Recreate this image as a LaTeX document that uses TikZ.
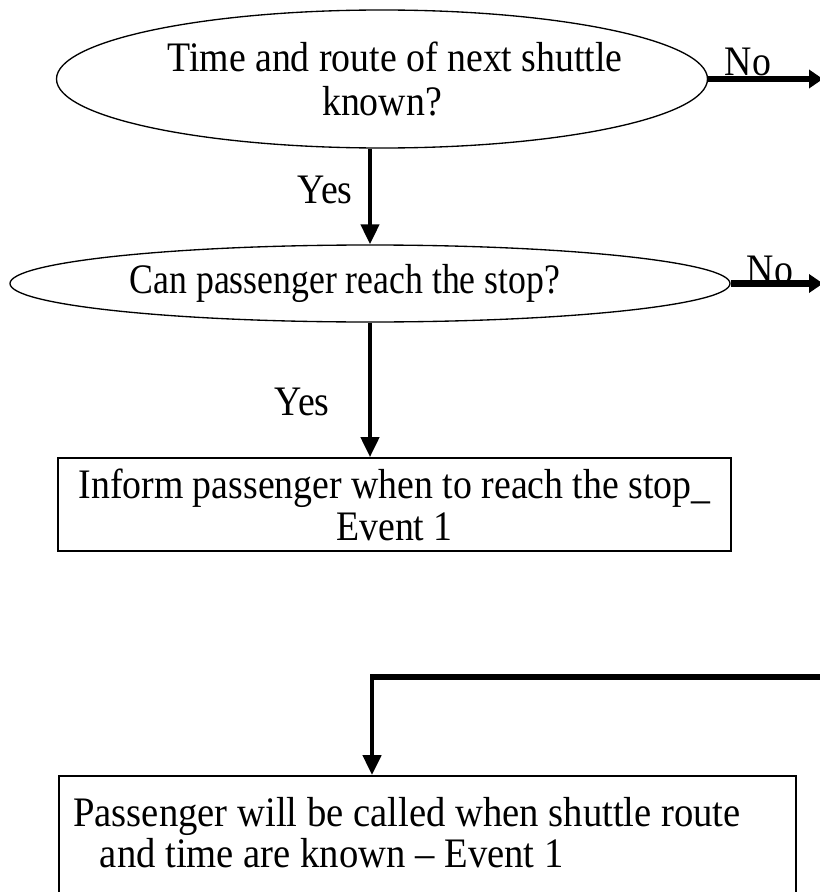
\documentclass[tikz,border=0pt]{standalone}
\usepackage{fontspec}
\setmainfont{Liberation Serif}[FakeStretch=0.9]
\newfontfamily\narrowfont{Liberation Serif}[FakeStretch=0.85,Ligatures=TeX]
\newfontfamily\widefont{Liberation Serif}[FakeStretch=0.92,Ligatures=TeX]
\usetikzlibrary{shapes.geometric,arrows.meta}
\newcommand\pxu{0.75pt}
\begin{document}
\begin{tikzpicture}[x=0.75pt,y=-0.75pt,
  every node/.style={font=\fontsize{31.5}{33.5}\selectfont},
  decision/.style={ellipse, draw, line width=1pt, inner sep=0pt, align=center},
  procbox/.style={rectangle, draw, line width=1.3pt, inner sep=0pt, align=center},
  flowarrow/.style={line width=3.2pt, -{Triangle[length=15pt,width=13.5pt]}},
  noarrow/.style={line width=5pt, -{Triangle[length=10.5pt,width=13.5pt]}},
  lbl/.style={inner sep=0pt}]
\useasboundingbox (0,0) rectangle (819,892);

% decisions
\node[decision, minimum width=651*\pxu, minimum height=138*\pxu] (d1) at (382,79)
  {\hspace*{9.75pt}Time and route of next shuttle\hspace*{-9.75pt}\\known?};
\node[decision, minimum width=720*\pxu, minimum height=77*\pxu,
  font=\narrowfont\fontsize{31.5}{33.5}\selectfont] (d2) at (370,283.5)
  {Can passenger reach the stop?\hspace*{37.5pt}};

% process boxes
\node[procbox, minimum width=673*\pxu, minimum height=93*\pxu,
  font=\fontsize{31.5}{31.5}\selectfont] (p1) at (394.5,504.5)
  {Inform passenger when to reach the stop\_\\Event 1};
\node[procbox, minimum width=737*\pxu, minimum height=122*\pxu, anchor=north west] (p2) at (58,775) {};
\node[anchor=north west, align=left, inner sep=0pt,
  font=\widefont\fontsize{31.5}{31}\selectfont] (t2) at (73,797)
  {Passenger will be called when shuttle route\\\hspace*{20pt}and time are known – Event 1};

% labels
\node[lbl] (no1) at (748,62) {No};
\node[lbl] (no2) at (770,270) {No};
\node[lbl] (yes1) at (325,190) {Yes};
\node[lbl] (yes2) at (302,402) {Yes};

% free ends at the right edge
\coordinate (e1) at (823,80);
\coordinate (e2) at (823,284);
\coordinate (c0) at (823,677);
\coordinate (k) at (372,677);

% connectors
\draw[noarrow] (d1.east) -- (d1.east -| e1);
\draw[noarrow] (d2.east) -- (d2.east -| e2);
\draw[flowarrow] (d1.south -| d2.north) -- (d2.north);
\draw[flowarrow] (d2.south) -- (d2.south |- p1.north);
\draw[line width=4.5pt] (c0) -- ([xshift=-1.75pt]k);
\draw[flowarrow, line width=3.5pt] ([yshift=2.25pt]k) -- (k |- p2.north);
\end{tikzpicture}
\end{document}
